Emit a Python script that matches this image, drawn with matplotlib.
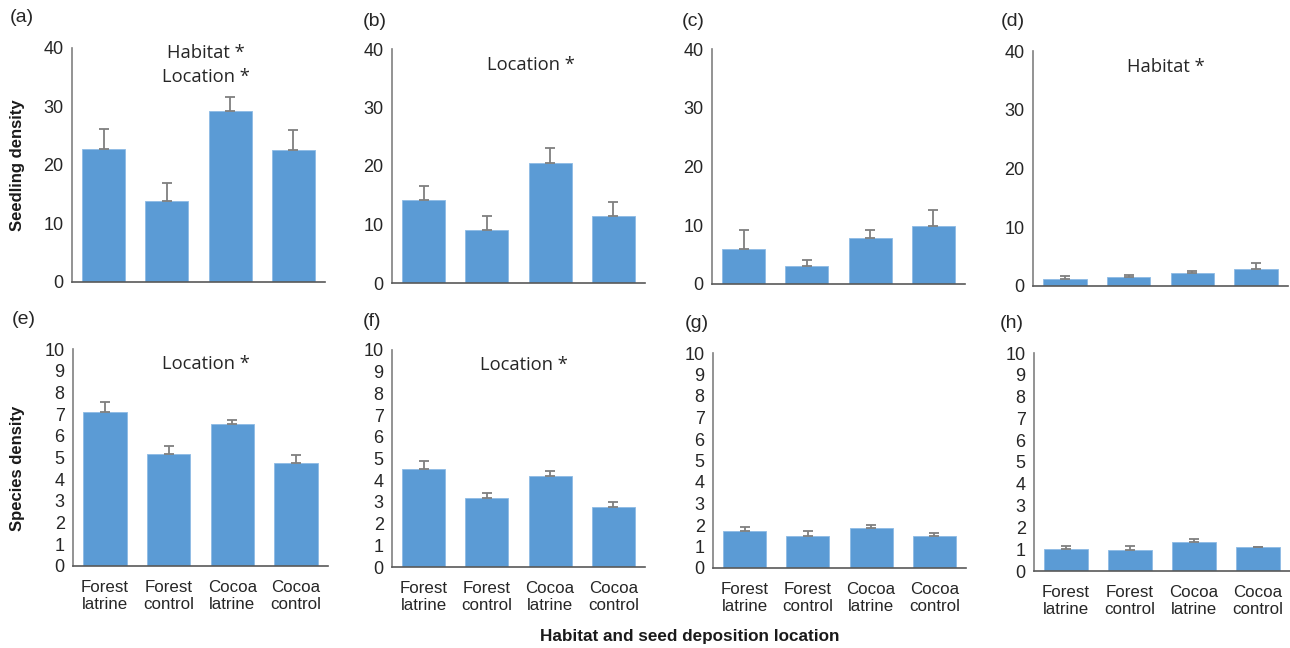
import numpy as np
import matplotlib.pyplot as plt

W, H = 1290, 648

categories = ['Forest\nlatrine', 'Forest\ncontrol', 'Cocoa\nlatrine', 'Cocoa\ncontrol']

# seedling density (top row) and species density (bottom row), mean and upper SE
seed_a = [22.7, 13.9, 29.3, 22.5]
seed_a_err = [3.4, 3.0, 2.3, 3.5]
seed_b = [14.2, 9.1, 20.5, 11.5]
seed_b_err = [2.4, 2.3, 2.5, 2.3]
seed_c = [5.9, 3.1, 7.9, 9.9]
seed_c_err = [3.3, 0.9, 1.3, 2.7]
seed_d = [1.25, 1.5, 2.2, 2.9]
seed_d_err = [0.4, 0.35, 0.35, 0.95]

spec_e = [7.1, 5.15, 6.55, 4.75]
spec_e_err = [0.45, 0.4, 0.2, 0.35]
spec_f = [4.5, 3.18, 4.2, 2.75]
spec_f_err = [0.38, 0.25, 0.23, 0.25]
spec_g = [1.7, 1.5, 1.85, 1.5]
spec_g_err = [0.23, 0.2, 0.14, 0.13]
spec_h = [1.0, 0.95, 1.35, 1.08]
spec_h_err = [0.13, 0.18, 0.12, 0.04]

bar_color = '#5B9BD5'
err_color = '#7F7F7F'
axis_color = '#808080'
tick_font = 'Liberation Sans'
note_font = 'Open Sans'

fig = plt.figure(figsize=(W / 100, H / 100), dpi=100)


def px_axes(left, right, top, bottom):
    return fig.add_axes([left / W, 1 - bottom / H, (right - left) / W, (bottom - top) / H])


def panel(box, vals, errs, ymax, step, label, label_xy, notes, show_x):
    ax = px_axes(*box)
    x = np.arange(len(vals))
    ax.bar(x, vals, width=0.68, color=bar_color, edgecolor='#8DBBE5', linewidth=0.6, zorder=2)
    ax.errorbar(x, vals, yerr=[np.zeros(len(errs)), errs], fmt='none', ecolor=err_color,
                elinewidth=1.3, capsize=3.5, capthick=1.3, zorder=3)
    ax.set_xlim(-0.5, len(vals) - 0.5)
    ax.set_ylim(0, ymax)
    ax.set_yticks(np.arange(0, ymax + 0.1, step))
    ax.spines['top'].set_visible(False)
    ax.spines['right'].set_visible(False)
    ax.spines['left'].set_color(axis_color)
    ax.spines['bottom'].set_color('#595959')
    ax.spines['left'].set_linewidth(1.2)
    ax.spines['bottom'].set_linewidth(1.2)
    ax.tick_params(axis='y', length=0, labelsize=13, colors='#262626', pad=6)
    for t in ax.get_yticklabels():
        t.set_fontfamily(tick_font)
    if show_x:
        ax.set_xticks(x)
        ax.set_xticklabels(categories, fontfamily=tick_font, fontsize=12.2, linespacing=1.15)
        ax.tick_params(axis='x', length=0, colors='#262626', pad=10)
    else:
        ax.set_xticks([])
    fig.text(label_xy[0] / W, 1 - label_xy[1] / H, label, fontsize=14, fontfamily=tick_font,
             ha='center', va='center', color='#262626')
    for nx, ny, txt in notes:
        ax.text(nx, ny, txt, transform=ax.transAxes, ha='center', va='center',
                fontsize=13.2, fontfamily=note_font, color='#262626')
    return ax


panel((72, 325, 48, 282), seed_a, seed_a_err, 40, 10, '(a)', (22, 18),
      [(0.53, 0.98, 'Habitat *'), (0.53, 0.875, 'Location *')], False)
panel((392, 645, 49, 283), seed_b, seed_b_err, 40, 10, '(b)', (375, 22),
      [(0.55, 0.93, 'Location *')], False)
panel((712, 965, 49, 284), seed_c, seed_c_err, 40, 10, '(c)', (693, 22), [], False)
panel((1033, 1288, 51, 286), seed_d, seed_d_err, 40, 10, '(d)', (1013, 22),
      [(0.52, 0.93, 'Habitat *')], False)

panel((73, 328, 349, 566), spec_e, spec_e_err, 10, 1, '(e)', (24, 320),
      [(0.52, 0.93, 'Location *')], True)
panel((392, 645, 350, 567), spec_f, spec_f_err, 10, 1, '(f)', (372, 321),
      [(0.52, 0.93, 'Location *')], True)
panel((713, 966, 353, 568), spec_g, spec_g_err, 10, 1, '(g)', (697, 323), [], True)
panel((1034, 1290, 353, 571), spec_h, spec_h_err, 10, 1, '(h)', (1012, 323), [], True)

fig.text(18 / W, 1 - 165 / H, 'Seedling density', rotation=90, ha='center', va='center',
         fontsize=12, fontweight='bold', fontfamily=tick_font, color='#1a1a1a')
fig.text(18 / W, 1 - 468 / H, 'Species density', rotation=90, ha='center', va='center',
         fontsize=12, fontweight='bold', fontfamily=tick_font, color='#1a1a1a')
fig.text(690 / W, 1 - 636 / H, 'Habitat and seed deposition location', ha='center', va='center',
         fontsize=12.3, fontweight='bold', fontfamily=tick_font, color='#1a1a1a')

fig.savefig('out.png', dpi=100, facecolor='white')
